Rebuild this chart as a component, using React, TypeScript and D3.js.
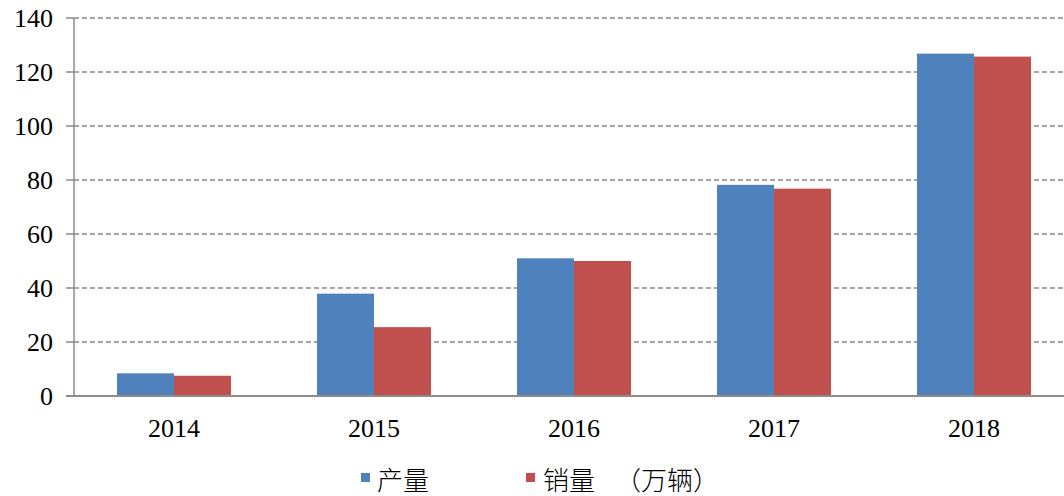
import React from "react";
import * as d3 from "d3";

const years = ["2014", "2015", "2016", "2017", "2018"];
const production = [8.4, 37.9, 51, 78.2, 126.8];
const sales = [7.5, 25.5, 50, 76.8, 125.7];
const yTicks = [0, 20, 40, 60, 80, 100, 120, 140];
const seriesNames = ["产量", "销量"];
const unitLabel = "（万辆）";
const colors = ["#4F81BD", "#C0504D"];

export default function App() {
  const W = 1064, H = 496;
  const x0 = 74, x1 = 1074, yTop = 18, yBot = 396;
  const x = d3.scaleBand().domain(years).range([x0, x1]).paddingInner(0.43).paddingOuter(0.215);
  const y = d3.scaleLinear().domain([0, 140]).range([yBot, yTop]);
  const inner = d3.scaleBand().domain(["p", "s"]).range([0, x.bandwidth()]);
  const serif: React.CSSProperties = { fontFamily: "Liberation Serif", fontSize: 26 };
  const cjk: React.CSSProperties = { fontFamily: '"Noto Sans CJK SC", sans-serif', fontSize: 26, fontWeight: 300 };
  return (
    <svg width={W} height={H} style={{ position: "absolute", left: 0, top: 0, background: "#fff" }}>
      {yTicks.filter(t => t > 0).map(t => (
        <line key={t} x1={x0} x2={W} y1={y(t)} y2={y(t)} stroke="#8c8c8c" strokeWidth={1.3} strokeDasharray="5,3" />
      ))}
      {years.map((yr, i) => (
        <g key={yr}>
          <rect x={x(yr)! + inner("p")!} y={y(production[i])} width={inner.bandwidth()} height={yBot - y(production[i])} fill={colors[0]} />
          <rect x={x(yr)! + inner("s")!} y={y(sales[i])} width={inner.bandwidth()} height={yBot - y(sales[i])} fill={colors[1]} />
          <text x={x(yr)! + x.bandwidth() / 2} y={437} textAnchor="middle" style={serif} fill="#000">{yr}</text>
        </g>
      ))}
      <line x1={x0} x2={x0} y1={yTop} y2={yBot} stroke="#8c8c8c" strokeWidth={1.5} />
      {yTicks.map(t => (
        <g key={t}>
          <line x1={66} x2={x0} y1={y(t)} y2={y(t)} stroke="#8c8c8c" strokeWidth={1.5} />
          <text x={53} y={y(t) + 9} textAnchor="end" style={serif} fill="#000">{t}</text>
        </g>
      ))}
      <line x1={66} x2={W} y1={yBot} y2={yBot} stroke="#8c8c8c" strokeWidth={2} />
      <rect x={361} y={473} width={9} height={9} fill={colors[0]} />
      <text x={377} y={490} style={cjk} fill="#000">{seriesNames[0]}</text>
      <rect x={526} y={473} width={9} height={9} fill={colors[1]} />
      <text x={543} y={490} style={cjk} fill="#000">{seriesNames[1]}</text>
      <text x={615} y={490} style={cjk} fill="#000">{unitLabel}</text>
    </svg>
  );
}
